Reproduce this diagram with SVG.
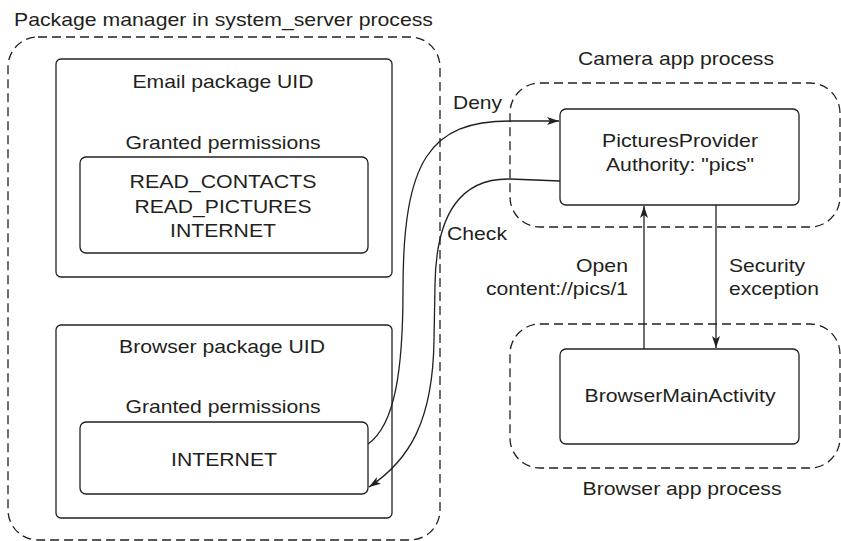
<svg xmlns="http://www.w3.org/2000/svg" width="841" height="541" viewBox="0 0 841 541">
<style>
  .t{font-family:"Liberation Sans",Arial,sans-serif;font-size:18.5px;fill:#231f20}
  .m{text-anchor:middle}
  .e{text-anchor:end}
  .box{fill:none;stroke:#231f20;stroke-width:1.3}
  .dash{fill:none;stroke:#231f20;stroke-width:1.3;stroke-dasharray:9 5}
  .conn{fill:none;stroke:#231f20;stroke-width:1.3}
</style>
<defs>
  <marker id="arr" markerUnits="userSpaceOnUse" markerWidth="14" markerHeight="10" refX="12" refY="4" orient="auto">
    <path d="M0,0 L12,4 L0,8 L3,4 z" fill="#231f20"/>
  </marker>
</defs>
<rect width="841" height="541" fill="#ffffff"/>

<g id="system-server-process">
  <rect class="dash" x="8" y="37" width="432" height="503" rx="30"/>
  <text class="t" x="14" y="26" textLength="419" lengthAdjust="spacingAndGlyphs">Package manager in system_server process</text>
</g>

<g id="email-package">
  <rect class="box" x="56" y="59" width="336" height="218" rx="5"/>
  <text class="t m" x="223" y="88" textLength="181" lengthAdjust="spacingAndGlyphs">Email package UID</text>
  <text class="t m" x="223" y="149" textLength="195" lengthAdjust="spacingAndGlyphs">Granted permissions</text>
</g>

<g id="email-permissions">
  <rect class="box" x="80" y="157" width="288" height="96" rx="6"/>
  <text class="t m" x="223" y="188" textLength="187" lengthAdjust="spacingAndGlyphs">READ_CONTACTS</text>
  <text class="t m" x="223" y="213" textLength="177" lengthAdjust="spacingAndGlyphs">READ_PICTURES</text>
  <text class="t m" x="223" y="237" textLength="106" lengthAdjust="spacingAndGlyphs">INTERNET</text>
</g>

<g id="browser-package">
  <rect class="box" x="56" y="325" width="336" height="193" rx="5"/>
  <text class="t m" x="222" y="353" textLength="206" lengthAdjust="spacingAndGlyphs">Browser package UID</text>
  <text class="t m" x="223" y="413" textLength="195" lengthAdjust="spacingAndGlyphs">Granted permissions</text>
</g>

<g id="browser-permissions">
  <rect class="box" x="80" y="422" width="288" height="72" rx="6"/>
  <text class="t m" x="224" y="466" textLength="106" lengthAdjust="spacingAndGlyphs">INTERNET</text>
</g>

<g id="camera-app-process">
  <rect class="dash" x="510" y="83" width="330" height="144" rx="30"/>
  <text class="t m" x="676" y="65" textLength="196" lengthAdjust="spacingAndGlyphs">Camera app process</text>
</g>

<g id="pictures-provider">
  <rect class="box" x="560" y="109" width="239" height="96" rx="6"/>
  <text class="t m" x="680" y="147" textLength="156" lengthAdjust="spacingAndGlyphs">PicturesProvider</text>
  <text class="t m" x="680" y="171" textLength="148" lengthAdjust="spacingAndGlyphs">Authority: "pics"</text>
</g>

<g id="browser-app-process">
  <rect class="dash" x="510" y="324" width="330" height="144" rx="30"/>
  <text class="t m" x="682" y="495" textLength="199" lengthAdjust="spacingAndGlyphs">Browser app process</text>
</g>

<g id="browser-main-activity">
  <rect class="box" x="560" y="349" width="239" height="95" rx="6"/>
  <text class="t m" x="680" y="402" textLength="191" lengthAdjust="spacingAndGlyphs">BrowserMainActivity</text>
</g>

<g id="connectors">
  <path class="conn" d="M368,444 C395,425 403,370 403,290 C403,160 430,121 510,121 L559,121" marker-end="url(#arr)"/>
  <text class="t" x="453" y="109" textLength="49" lengthAdjust="spacingAndGlyphs">Deny</text>
  <path class="conn" d="M560,181 L510,179 C462,178 436,212 435,285 L434,340 C433,420 410,460 369,487" marker-end="url(#arr)"/>
  <text class="t" x="447" y="240" textLength="60" lengthAdjust="spacingAndGlyphs">Check</text>
  <path class="conn" d="M644,349 L644,206" marker-end="url(#arr)"/>
  <text class="t e" x="628" y="272" textLength="52" lengthAdjust="spacingAndGlyphs">Open</text>
  <text class="t e" x="628" y="295" textLength="142" lengthAdjust="spacingAndGlyphs">content://pics/1</text>
  <path class="conn" d="M716,205 L716,348" marker-end="url(#arr)"/>
  <text class="t" x="729" y="272" textLength="76" lengthAdjust="spacingAndGlyphs">Security</text>
  <text class="t" x="729" y="295" textLength="90" lengthAdjust="spacingAndGlyphs">exception</text>
</g>
</svg>
